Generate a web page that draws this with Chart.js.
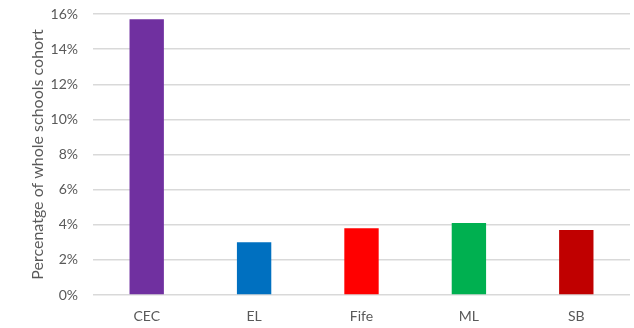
<!DOCTYPE html>
<html>
<head>
<meta charset="utf-8">
<script src="https://cdn.jsdelivr.net/npm/chart.js@4"></script>
<style>
  html, body { margin: 0; padding: 0; background: #fff; }
  #wrap { width: 634px; height: 328px; }
</style>
</head>
<body>
<div id="wrap"><canvas id="cohortChart" width="634" height="328"></canvas></div>
<script>
const areas     = ['CEC', 'EL', 'Fife', 'ML', 'SB'];
const pctCohort = [15.7, 3.0, 3.8, 4.1, 3.7];
const barColors = ['#7030A0', '#0070C0', '#FF0000', '#00B050', '#C00000'];
const yTicks    = [0, 2, 4, 6, 8, 10, 12, 14, 16];

const textCol = '#595959';
const gridCol = '#d9d9d9';
const font    = { family: 'Lato, Calibri, Carlito, sans-serif', size: 14 };

new Chart(document.getElementById('cohortChart'), {
    type: 'bar',
    data: {
        labels: areas,
        datasets: [{ data: pctCohort, backgroundColor: barColors, categoryPercentage: 1, barPercentage: 0.32 }]
    },
    options: {
        responsive: false, animation: false,
        layout: { padding: { top: 14, right: 4, bottom: 0, left: 0 } },
        plugins: { legend: { display: false }, tooltip: { enabled: false } },
        scales: {
            x: {
                grid: { display: false, drawTicks: false },
                border: { display: false },
                ticks: { color: textCol, font, padding: 13 },
                afterFit: s => { s.height = 33; }
            },
            y: {
                min: 0, max: 16,
                afterBuildTicks: s => { s.ticks = yTicks.map(v => ({ value: v })); },
                grid: { color: gridCol, lineWidth: 1.5, drawTicks: false },
                border: { display: false },
                ticks: { color: textCol, font, padding: 15, callback: v => v + '%' },
                title: { display: true, text: 'Percenatge of whole schools cohort', color: textCol, font: { ...font, size: 16 }, padding: { top: 28 } },
                // fixed width; tick padding should not push the plot down
                afterFit: s => { s.width = 93; s.paddingTop = 0; s.paddingBottom = 0; }
            }
        }
    }
});
</script>
</body>
</html>
